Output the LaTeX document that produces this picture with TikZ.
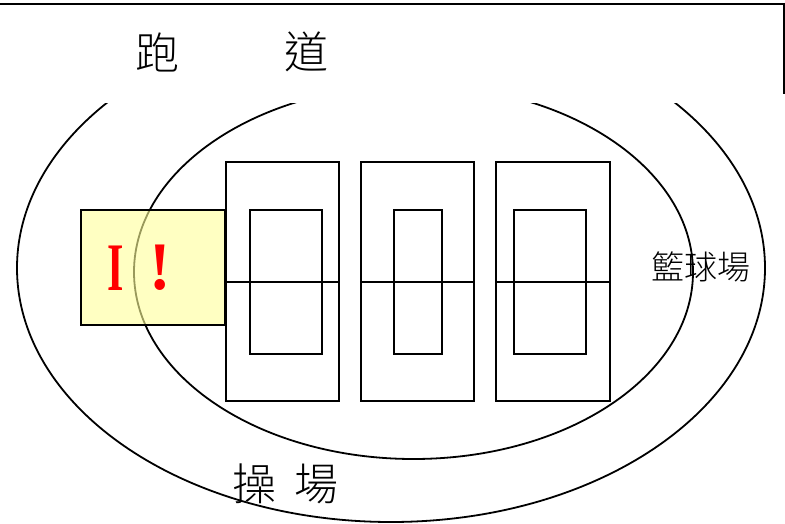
\documentclass[tikz,border=0pt]{standalone}
\usepackage{fontspec}
\newfontfamily\cjk{Noto Sans CJK TC Light}[Scale=1]
\newfontfamily\latinserif{Liberation Serif Bold}
\tikzset{
  track/.style={draw=black,line width=1.8pt},
  court/.style={draw=black,line width=1.8pt},
  bigcjk/.style={font=\cjk\fontsize{44}{44}\selectfont,inner sep=0pt,text=black},
  smallcjk/.style={font=\cjk\fontsize{33}{33}\selectfont,inner sep=0pt,text=black},
  mark text/.style={font=\latinserif\fontsize{68}{68}\selectfont,text=red,inner sep=0pt},
  notebox/.style={draw=black,line width=1.8pt,fill=noteyellow,fill opacity=.6,draw opacity=1},
}
\definecolor{noteyellow}{HTML}{FFFF99}
\begin{document}
\begin{tikzpicture}[x=1pt,y=-1pt]
\useasboundingbox (0,0) rectangle (785,524);
\begin{scope}
  \clip (0,104) rectangle (785,524);
  \draw[track] (391,268) ellipse [x radius=374,y radius=254];
  \draw[track] (413.5,272) ellipse [x radius=279.5,y radius=187];
\end{scope}
\draw[line width=2.4pt] (0,4) -- (784,4);
\draw[line width=1.5pt] (784,3) -- (784,94);
\foreach \l/\r/\il/\ir/\m in {226/339/250/322/a,361/474/394/442/b,496/610/514/586/c}{
  \draw[court] (\l,162) rectangle (\r,401);
  \draw[court] (\il,210) rectangle (\ir,354);
  \draw[court] (\l,282) -- (\r,282);
}
\draw[notebox] (81,210) rectangle (225,325);
\node[mark text,xscale=.62] (i) at (116,268) {I};
\node[mark text,xscale=.95] (bang) at (160,268) {!};
\node[bigcjk] (pao) at (157,52) {跑};
\node[bigcjk] (dao) at (306,52) {道};
\node[bigcjk] (cao) at (254,484) {操};
\node[bigcjk] (chang) at (316,484) {場};
\node[smallcjk] (court label) at (701,267) {籃球場};
\end{tikzpicture}
\end{document}
